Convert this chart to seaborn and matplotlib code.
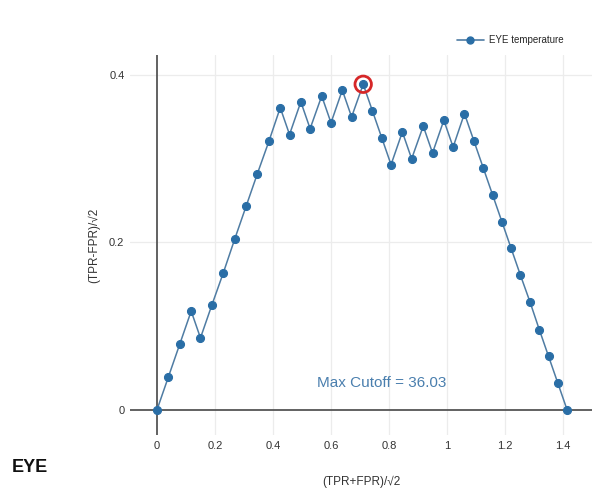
import matplotlib
matplotlib.use("Agg")
import matplotlib.pyplot as plt
import seaborn as sns
import pandas as pd
from matplotlib.lines import Line2D

# ROC curve rotated by 45 degrees: x = (TPR+FPR)/sqrt(2), y = (TPR-FPR)/sqrt(2)
x_vals = [0.000, 0.039, 0.079, 0.118, 0.150, 0.189, 0.229, 0.268, 0.307, 0.346,
          0.386, 0.425, 0.457, 0.496, 0.528, 0.568, 0.600, 0.639, 0.671, 0.711,
          0.743, 0.775, 0.807, 0.846, 0.878, 0.918, 0.950, 0.989, 1.021, 1.060,
          1.093, 1.125, 1.157, 1.189, 1.221, 1.253, 1.286, 1.318, 1.350, 1.382,
          1.414]
y_vals = [0.000, 0.039, 0.079, 0.118, 0.086, 0.125, 0.164, 0.204, 0.243, 0.282,
          0.321, 0.361, 0.329, 0.368, 0.336, 0.375, 0.343, 0.382, 0.350, 0.389,
          0.357, 0.325, 0.293, 0.332, 0.300, 0.339, 0.307, 0.346, 0.314, 0.354,
          0.321, 0.289, 0.257, 0.225, 0.193, 0.161, 0.129, 0.096, 0.064, 0.032,
          0.000]
series_name = "EYE temperature"
max_x, max_y = 0.711, 0.389
cutoff_label = "Max Cutoff = 36.03"
panel_title = "EYE"
x_ticks = [0, 0.2, 0.4, 0.6, 0.8, 1.0, 1.2, 1.4]
x_ticklabels = ["0", "0.2", "0.4", "0.6", "0.8", "1", "1.2", "1.4"]
y_ticks = [0, 0.2, 0.4]
y_ticklabels = ["0", "0.2", "0.4"]

df = pd.DataFrame({"x": x_vals, "y": y_vals})

sns.set_theme(style="white")
plt.rcParams["font.family"] = ["Liberation Sans", "DejaVu Sans"]

fig = plt.figure(figsize=(6.06, 4.94), dpi=100)
ax = fig.add_axes([0.2145, 0.1194, 0.7625, 0.7693])

line_c = "#4f7ca3"
mark_c = "#2a6ea6"
sns.lineplot(data=df, x="x", y="y", ax=ax, sort=False, color=line_c, lw=1.1,
             marker="o", markersize=5.8, markerfacecolor=mark_c,
             markeredgecolor=mark_c, zorder=3)

# highlight of the best cutoff
ax.scatter([max_x], [max_y], s=140, facecolors="none", edgecolors="#d62728",
           linewidths=2.0, zorder=4)

ax.set_xlim(-0.093, 1.5)
ax.set_ylim(-0.03, 0.424)

# grid and zero lines
for xv in x_ticks[1:]:
    ax.axvline(xv, color="#ececec", lw=0.9, zorder=0)
for yv in y_ticks[1:]:
    ax.axhline(yv, color="#ececec", lw=0.9, zorder=0)
ax.axvline(0, color="#555555", lw=1.3, zorder=1)
ax.axhline(0, color="#555555", lw=1.3, zorder=1)

for s in ax.spines.values():
    s.set_visible(False)

ax.set_xticks(x_ticks)
ax.set_xticklabels(x_ticklabels)
ax.set_yticks(y_ticks)
ax.set_yticklabels(y_ticklabels)
ax.tick_params(axis="both", length=0, labelsize=8, colors="#333333", pad=4)

ax.set_xlabel("(TPR+FPR)/\u221a2", fontsize=8.5, color="#333333", labelpad=18)
ax.set_ylabel("(TPR-FPR)/\u221a2", fontsize=8.5, color="#333333", labelpad=6)

ax.text(0.552, 0.032, cutoff_label, fontsize=11, color="#4a7fae",
        ha="left", va="center")

fig.text(12 / 606, 1 - 467 / 494, panel_title, fontsize=13, fontweight="bold",
         color="#111111", ha="left", va="center")

handle = Line2D([0], [0], color=line_c, lw=1.2, marker="o", markersize=5,
                markerfacecolor=mark_c, markeredgecolor=mark_c)
fig.legend([handle], [series_name], loc="center left",
           bbox_to_anchor=(452 / 606, 1 - 40 / 494), frameon=False,
           fontsize=7, handlelength=2.8, handletextpad=0.5, borderpad=0)

fig.savefig("out.png", dpi=100, facecolor="white")
